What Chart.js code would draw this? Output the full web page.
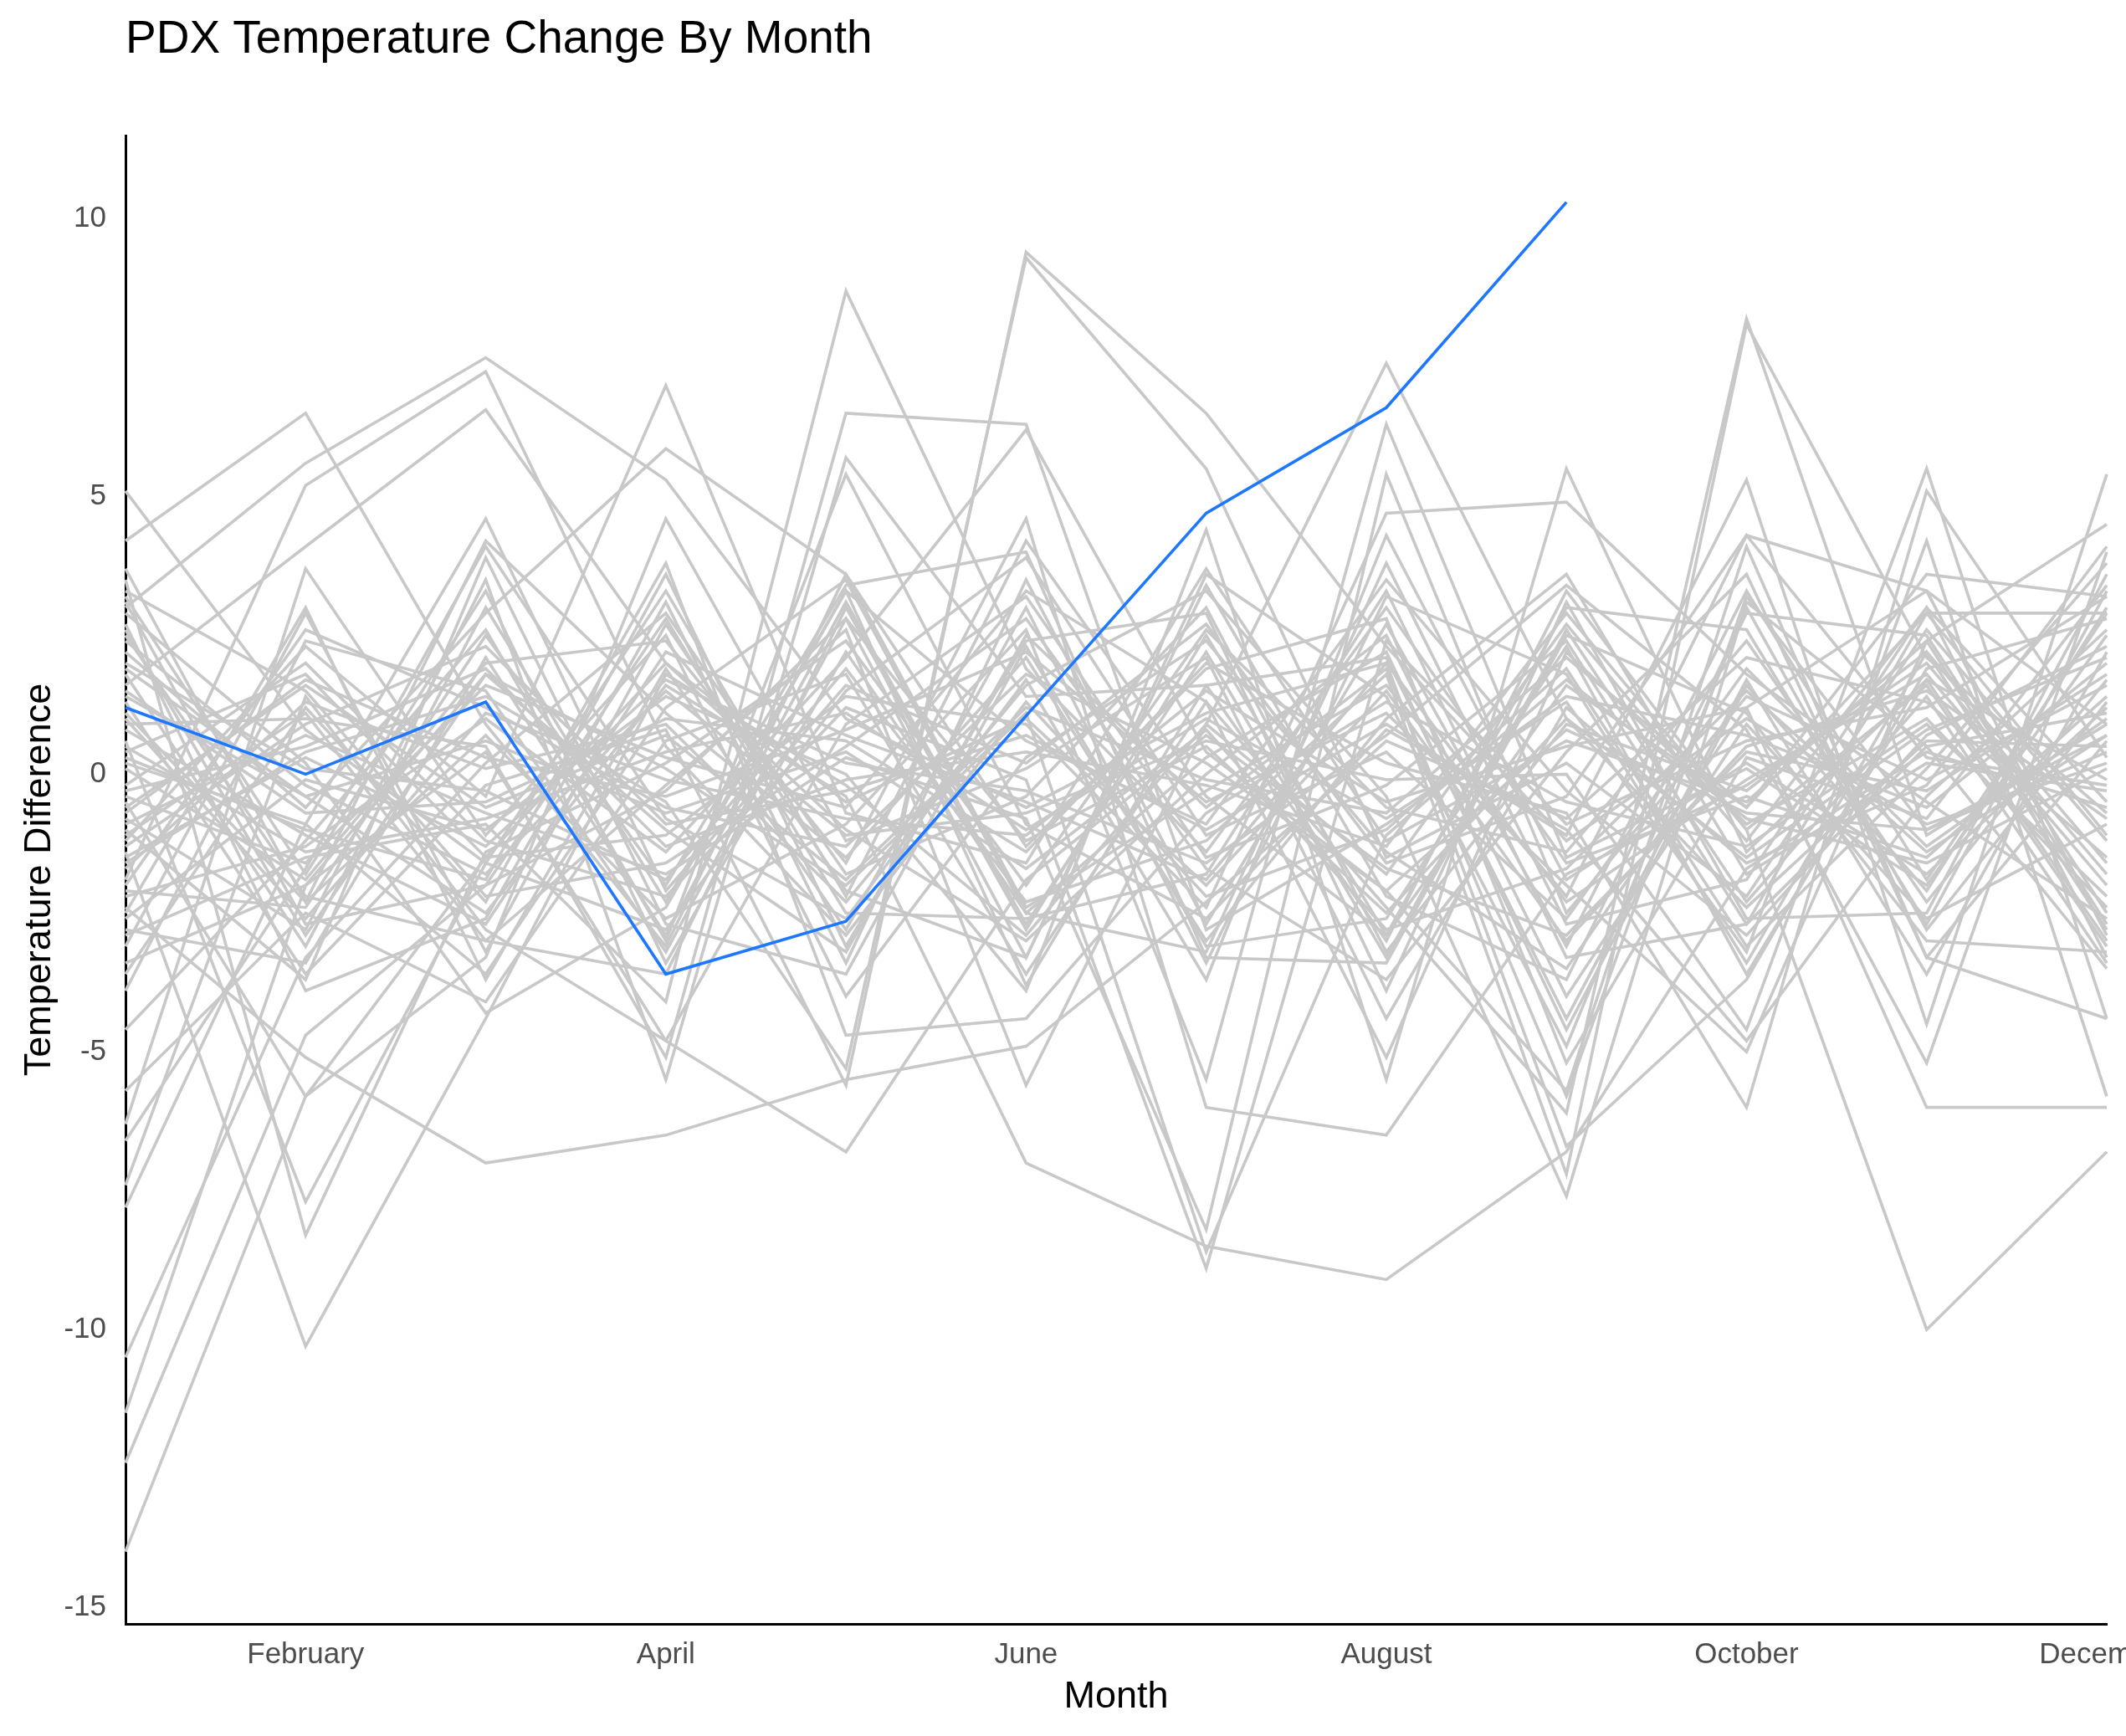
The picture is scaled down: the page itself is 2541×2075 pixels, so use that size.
<!DOCTYPE html>
<html>
<head>
<meta charset="utf-8">
<title>PDX Temperature Change By Month</title>
<script src="https://cdn.jsdelivr.net/npm/chart.js@4"></script>
<style>
  html, body { margin: 0; padding: 0; background: #ffffff; overflow: hidden; }
  #wrap { width: 2541px; height: 2075px; }
</style>
</head>
<body>
<div id="wrap"><canvas id="pdxChart" width="2541" height="2075"></canvas></div>
<script>
// --- Data ---
const months = ["January", "February", "March", "April", "May", "June",
  "July", "August", "September", "October", "November", "December"];
const shownMonths = ["February", "April", "June", "August", "October", "December"];
const yTicks = [-15, -10, -5, 0, 5, 10];

// current year (highlighted), data stops after September
const currentYear = [1.2, 0.0, 1.3, -3.6, -2.65, 1.05, 4.7, 6.6, 10.3, null, null, null];

// earlier years, month-to-month temperature difference
const yr01 = [-14.0, -5.8, -1.5, 2.0, -0.5, 1.0, -2.0, 1.5, -3.0, 0.5, 1.5, -0.8];
const yr02 = [-12.4, -4.7, -2.0, -0.3, 2.8, -1.2, 0.5, -2.5, 1.0, -1.5, 0.8, 2.1];
const yr03 = [-11.5, -2.0, 1.8, -1.0, -3.2, 2.5, -0.6, 1.9, -5.8, 3.2, -1.0, 0.4];
const yr04 = [-10.5, -3.3, 0.2, 2.9, -1.8, -0.4, 3.0, -3.2, 0.9, -0.3, 2.2, -1.6];
const yr05 = [-7.8, -0.9, -3.6, 1.2, 3.5, -2.5, 0.3, 2.2, -4.6, 1.6, -2.1, 3.0];
const yr06 = [-7.4, 1.4, -2.8, -4.8, 0.9, 3.2, -1.5, -0.2, 2.4, -2.7, 0.5, -3.5];
const yr07 = [-6.6, -1.7, 4.1, -0.8, -2.6, 1.7, -3.7, 4.3, -1.9, 0.2, -1.8, 1.2];
const yr08 = [-6.3, 3.7, -1.1, 2.5, -4.0, 0.3, 2.4, -1.4, -3.5, 1.2, 3.3, 0.9];
const yr09 = [-5.7, -2.5, -4.1, 0.6, 1.8, -3.6, 1.3, -5.1, 2.2, -0.9, 1.0, -2.4];
const yr10 = [-4.6, -1.2, 2.6, -3.0, 5.4, -0.9, -2.6, 0.8, -1.0, -4.8, -0.4, 2.6];
const yr11 = [5.1, 0.8, -1.6, 3.3, -2.2, 4.2, -0.4, -2.9, 1.6, -0.6, 2.9, -1.1];
const yr12 = [4.2, 6.5, 0.9, -3.1, 3.6, -1.3, 1.9, 2.8, -5.2, 0.3, -0.8, 3.4];
const yr13 = [3.7, -2.3, 4.2, 1.1, -1.5, 2.1, -3.0, 1.0, 3.6, -1.8, 0.2, -0.3];
const yr14 = [3.5, -8.3, -1.4, 0.2, 2.4, -2.0, 2.6, -0.6, -1.4, 2.4, -2.3, 1.7];
const yr15 = [3.3, 1.5, -2.2, -1.6, 0.5, 2.8, -1.7, -3.7, 0.4, 3.6, -3.3, 0.6];
const yr16 = [3.0, 5.6, 7.5, 5.3, 1.0, -0.6, 1.1, 2.0, -2.3, -0.1, 1.8, -2.0];
const yr17 = [2.9, 0.2, -4.3, -2.4, 3.3, 0.6, -0.9, 3.5, -0.3, -2.9, 0.7, 2.3];
const yr18 = [-1.4, -10.3, -4.4, 1.8, -0.2, -2.9, 0.9, -1.8, 2.7, -1.2, 3.0, -0.5];
const yr19 = [0.6, -7.7, -1.6, -2.8, 1.5, 3.9, -1.1, 0.4, -2.6, 1.9, -1.3, 1.0];
const yr20 = [-1.9, 5.2, 7.25, 0.5, -2.9, 1.3, -2.2, -1.0, 1.9, -3.1, 0.1, 3.8];
const yr21 = [1.6, 4.1, 6.56, 2.0, -1.0, -3.0, 0.0, 2.5, -4.0, 0.9, -2.6, -0.9];
const yr22 = [-2.4, -5.1, -7.0, -6.5, -5.5, -4.9, -2.3, 0.6, -0.8, 2.1, 1.3, -1.5];
const yr23 = [-0.5, -5.8, -3.3, 4.6, -1.2, 0.1, 2.1, -4.4, 1.2, -1.6, -0.2, 4.1];
const yr24 = [-1.2, 2.3, -0.4, 7.0, -0.7, -1.6, 3.7, -1.2, 0.6, -0.5, 2.4, -2.7];
const yr25 = [2.2, -0.6, 2.9, 5.86, 3.6, -2.4, -0.3, 1.6, -2.2, 4.3, 0.3, -0.2];
const yr26 = [-2.9, -1.5, -0.9, -4.1, 8.7, 1.9, -1.4, 3.0, -1.6, -0.4, -1.5, 1.4];
const yr27 = [0.9, 1.0, 0.5, -5.1, 6.5, 6.3, -2.8, -0.9, 1.4, 0.7, -0.6, 2.0];
const yr28 = [-0.8, -2.8, 3.5, -5.5, 5.7, 1.4, 1.6, -3.0, 3.3, -1.0, 1.6, -3.1];
const yr29 = [1.3, -3.6, -0.2, 0.8, -5.6, 9.4, 6.5, 2.3, -1.2, 1.0, -0.9, 0.2];
const yr30 = [-1.6, 0.4, 1.4, -0.5, -5.3, 9.3, 5.5, -1.5, 0.2, -2.2, 2.6, -1.2];
const yr31 = [-3.4, -2.0, 0.4, -4.8, -6.8, -1.9, 0.7, -1.7, -2.9, 0.4, -0.3, 1.8];
const yr32 = [0.3, -1.0, -1.9, 3.8, -4.7, -4.4, -0.7, 1.3, -0.5, -1.3, 0.9, -2.2];
const yr33 = [-2.2, -1.3, 1.0, -1.4, 2.1, 6.2, 0.4, -2.1, 0.8, -0.7, -1.0, 0.7];
const yr34 = [1.9, -0.4, -2.5, 1.6, -0.4, -7.0, -8.5, -9.1, -6.8, -1.7, 0.4, -0.6];
const yr35 = [-0.2, 2.0, -1.2, -2.2, 1.2, -0.1, -8.9, 2.4, -0.9, 0.6, 1.2, 3.2];
const yr36 = [2.6, -2.9, 1.8, 0.1, -2.0, 1.1, -8.6, -1.1, 1.7, -0.8, -1.6, 0.1];
const yr37 = [-0.9, 0.7, -0.7, -1.8, 0.3, -0.8, -8.2, 5.4, -2.5, 1.4, -0.1, 1.6];
const yr38 = [0.1, -1.9, 2.0, 2.4, -1.6, 4.6, -6.0, -6.5, -1.8, -0.2, 2.0, -1.8];
const yr39 = [-1.1, 1.1, -3.0, -0.2, 2.6, -5.6, 0.9, 7.4, 1.0, -2.4, 0.6, 0.5];
const yr40 = [1.1, -2.3, 0.7, -2.6, -0.9, 2.6, -5.5, 6.3, -1.5, 0.1, -2.0, 2.5];
const yr41 = [-2.6, -0.1, -1.0, 1.4, 0.0, -3.9, 4.4, -5.5, 5.5, -1.4, 1.7, -0.1];
const yr42 = [0.4, 1.8, -1.5, -1.1, 1.4, 0.9, -2.4, 4.7, 4.9, 1.8, -0.5, -2.6];
const yr43 = [-0.4, -1.6, 1.6, 0.3, -0.6, 3.3, 1.3, -2.4, -6.1, 8.2, -1.1, 0.9];
const yr44 = [2.0, 0.1, -0.3, -1.9, 1.9, -2.3, -1.2, 1.8, -7.2, 8.1, 2.1, -0.7];
const yr45 = [-1.7, 1.3, 0.1, 0.9, -2.3, 1.6, 3.3, -0.4, -7.6, 3.1, 0.5, 1.1];
const yr46 = [0.8, -1.1, -2.7, 2.2, 0.7, -0.5, -1.9, 2.0, -6.7, -3.7, 1.9, 2.8];
const yr47 = [-2.0, 2.6, 1.2, -0.6, -1.3, 1.8, 0.2, -2.1, -5.7, 4.1, -3.3, -4.4];
const yr48 = [1.5, -0.7, -0.5, 1.0, 0.6, -1.4, 2.0, 0.2, -0.7, -6.0, 5.1, 0.3];
const yr49 = [-0.3, 0.5, 1.9, -1.3, -0.1, 0.4, -0.2, -1.3, 2.9, -1.0, -10.0, -6.8];
const yr50 = [0.5, -1.4, -0.8, 0.4, 1.1, -1.0, 1.0, -0.8, 1.3, -3.2, 5.5, -4.4];
const yr51 = [-1.3, 0.9, 2.3, -0.9, -0.3, 0.7, -1.0, 0.9, -1.1, 5.3, -4.5, 5.4];
const yr52 = [2.4, -0.2, -1.8, 1.5, -1.1, -0.7, 0.6, -0.1, 0.0, -4.6, 4.2, -5.8];
const yr53 = [-0.7, 1.7, 0.3, -0.4, 0.8, 2.2, -0.5, 1.1, -2.0, -5.0, 2.4, 4.5];
const yr54 = [1.0, -2.6, 1.1, -0.1, -0.8, -1.1, 1.5, -0.5, 0.5, 1.2, -6.0, -6.0];
const yr55 = [-1.5, 0.3, -1.3, 1.7, 0.2, -0.3, -1.6, 0.7, 3.4, 0.8, -5.2, 4.0];
const yr56 = [0.2, -0.9, 4.6, -2.1, 1.6, 0.2, 2.7, -1.6, -0.4, 4.3, 3.3, -2.9];
const yr57 = [-0.6, 1.6, -0.6, 0.7, -1.9, 1.2, -0.1, -0.7, 2.1, -0.6, 3.6, 3.2];
const yr58 = [1.4, -0.4, 0.6, -0.7, 0.4, -1.7, 0.8, -2.8, -1.7, 1.5, -1.4, 0.7];
const yr59 = [-2.8, -3.4, 2.1, -2.9, 3.1, -2.7, 2.2, -3.3, 2.6, -2.3, 1.4, -3.4];
const yr60 = [2.7, -3.9, -2.6, 3.1, -3.4, 3.5, -2.7, 2.7, -3.1, 3.3, -1.9, 2.9];
const yr61 = [-3.1, 2.9, -3.2, 2.7, -2.1, -3.3, 3.4, -2.2, -3.7, 2.9, 2.5, -2.5];
const yr62 = [3.2, -1.8, 3.3, -3.4, 2.2, -2.5, -3.2, 3.8, -2.7, -1.9, 3.0, -3.3];
const yr63 = [-3.6, 1.2, -2.3, 3.6, -3.1, 2.4, 2.9, -3.9, 3.1, -2.6, -2.5, 3.6];
const yr64 = [1.8, -3.1, 3.0, -2.3, 3.3, -3.8, 1.6, 2.1, -4.4, 1.7, -3.6, 2.2];
const yr65 = [-2.5, 3.0, -3.7, 1.9, -2.8, 3.0, -3.4, 3.2, 1.8, -3.4, 2.2, -2.8];
const yr66 = [2.5, -2.2, -3.0, -3.6, 3.0, -2.8, 2.5, -2.9, 3.0, 2.6, -2.7, 3.3];
const yr67 = [-1.0, -3.7, 3.9, -2.7, -3.6, 2.3, -3.1, -2.6, 2.3, -3.6, 1.7, -3.0];
const yr68 = [-3.9, 2.4, 1.5, -3.2, 2.8, -3.3, 3.6, 1.4, -4.9, 3.0, -2.8, 1.3];
const yr69 = [3.1, -2.7, -2.0, 2.8, -2.5, -2.6, -1.8, 3.3, -3.3, -2.7, 2.9, 2.9];
const yr70 = [-2.1, -2.4, 2.5, -2.0, 3.4, 4.0, -3.3, -3.4, 2.5, 1.1, -3.0, -3.2];

const pastYears = [yr01, yr02, yr03, yr04, yr05, yr06, yr07, yr08, yr09, yr10,
  yr11, yr12, yr13, yr14, yr15, yr16, yr17, yr18, yr19, yr20,
  yr21, yr22, yr23, yr24, yr25, yr26, yr27, yr28, yr29, yr30,
  yr31, yr32, yr33, yr34, yr35, yr36, yr37, yr38, yr39, yr40,
  yr41, yr42, yr43, yr44, yr45, yr46, yr47, yr48, yr49, yr50,
  yr51, yr52, yr53, yr54, yr55, yr56, yr57, yr58, yr59, yr60,
  yr61, yr62, yr63, yr64, yr65, yr66, yr67, yr68, yr69, yr70];

// --- Styling ---
const FONT = "'Liberation Sans', Arial, Helvetica, sans-serif";
const GREY = "#c8c8c8";
const BLUE = "#1e78ff";
const TICK_COLOR = "#4d4d4d";

// blue line first so it's drawn on top
const datasets = [{
  label: "current",
  data: currentYear,
  borderColor: BLUE,
  borderWidth: 3.6,
  pointRadius: 0,
  tension: 0,
  fill: false
}].concat(pastYears.map((vals, i) => ({
  label: "year " + (i + 1),
  data: vals,
  borderColor: GREY,
  borderWidth: 3.6,
  pointRadius: 0,
  tension: 0,
  fill: false
})));

// title + axis titles drawn onto the canvas
const textPlugin = {
  id: "pdxText",
  afterDraw(chart) {
    const ctx = chart.ctx;
    const area = chart.chartArea;
    ctx.save();
    ctx.fillStyle = "#000000";
    ctx.textBaseline = "alphabetic";

    ctx.font = "55px " + FONT;
    ctx.textAlign = "left";
    ctx.fillText("PDX Temperature Change By Month", 150, 63);

    ctx.font = "45px " + FONT;
    ctx.textAlign = "center";
    ctx.fillText("Month", (area.left + area.right) / 2, 2041);

    ctx.translate(60, (area.top + area.bottom) / 2);
    ctx.rotate(-Math.PI / 2);
    ctx.fillText("Temperature Difference", 0, 0);
    ctx.restore();
  }
};

new Chart(document.getElementById("pdxChart").getContext("2d"), {
  type: "line",
  data: { labels: months, datasets: datasets },
  options: {
    responsive: false,
    animation: false,
    devicePixelRatio: 1,
    layout: { padding: { top: 162, right: 23, left: 0, bottom: 0 } },
    plugins: {
      legend: { display: false },
      tooltip: { enabled: false },
      title: { display: false }
    },
    scales: {
      x: {
        type: "category",
        offset: false,
        grid: { display: false, drawTicks: false },
        border: { display: true, color: "#000000", width: 3 },
        ticks: {
          autoSkip: false,
          maxRotation: 0,
          minRotation: 0,
          padding: 16,
          color: TICK_COLOR,
          font: { family: FONT, size: 35 },
          callback: function(value) {
            const name = this.getLabelForValue(value);
            return shownMonths.includes(name) ? name : "";
          }
        },
        afterFit(axis) {
          axis.height = 134;
          axis.paddingLeft = 0;
          axis.paddingRight = 0;
        }
      },
      y: {
        type: "linear",
        min: -15.3,
        max: 11.5,
        grid: { display: false, drawTicks: false },
        border: { display: true, color: "#000000", width: 3 },
        ticks: {
          padding: 23,
          color: TICK_COLOR,
          font: { family: FONT, size: 35 }
        },
        afterBuildTicks(axis) {
          axis.ticks = yTicks.map(v => ({ value: v }));
        },
        afterFit(axis) {
          axis.width = 150;
          axis.paddingTop = 0;
          axis.paddingBottom = 0;
        }
      }
    }
  },
  plugins: [textPlugin]
});
</script>
</body>
</html>
